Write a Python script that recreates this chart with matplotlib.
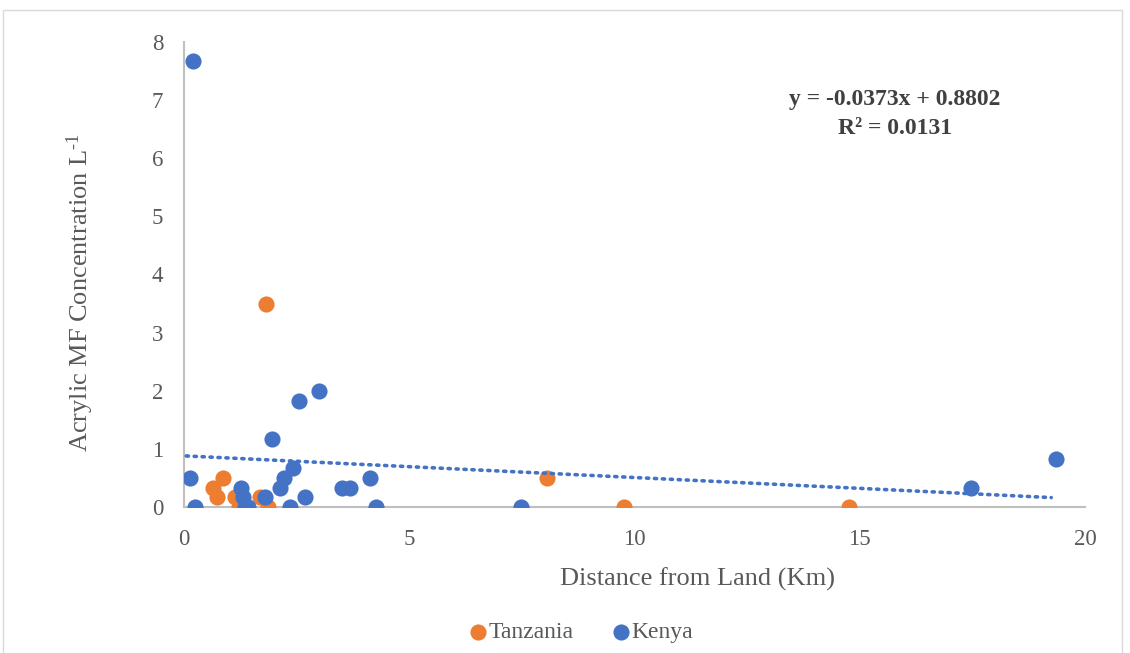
import matplotlib.pyplot as plt
import numpy as np
from matplotlib.patches import Rectangle

# Tanzania samples: distance from land (km) and acrylic MF concentration (per L)
tz_dist = [0.64, 0.73, 0.87, 1.13, 1.22, 1.69, 1.82, 1.86, 8.06, 9.77, 14.76]
tz_conc = [0.33, 0.17, 0.5, 0.17, 0.0, 0.17, 3.5, 0.0, 0.5, 0.0, 0.0]

# Kenya samples
ke_dist = [0.13, 0.2, 0.25, 1.27, 1.31, 1.35, 1.42, 1.8, 1.95, 2.13, 2.22,
           2.42, 2.35, 2.55, 2.69, 3.0, 3.5, 3.68, 4.13, 4.26, 7.48, 17.47, 19.35]
ke_conc = [0.5, 7.67, 0.0, 0.33, 0.17, 0.0, 0.0, 0.17, 1.17, 0.33, 0.5,
           0.67, 0.0, 1.83, 0.17, 2.0, 0.33, 0.33, 0.5, 0.0, 0.0, 0.33, 0.83]

# linear trendline as printed on the chart
slope = -0.0373
intercept = 0.8802
r2 = 0.0131

x_ticks = [0, 5, 10, 15, 20]
y_ticks = [0, 1, 2, 3, 4, 5, 6, 7, 8]

orange = '#ED7D31'
blue = '#4472C4'
grey_txt = '#595959'
serif = ['Liberation Serif', 'DejaVu Serif']

plt.rcParams['mathtext.fontset'] = 'custom'
plt.rcParams['mathtext.rm'] = 'Liberation Serif'
plt.rcParams['mathtext.it'] = 'Liberation Serif:italic'

fig = plt.figure(figsize=(11.3, 6.53), dpi=100)
fig.patches.append(Rectangle((3 / 1130, -0.1), 1119 / 1130, 1.1 - 10 / 653,
                             transform=fig.transFigure, fill=False,
                             edgecolor='#d9d9d9', linewidth=1))
ax = fig.add_axes([184 / 1130, 1 - 507 / 653, 901 / 1130, 465 / 653])

ax.scatter(tz_dist, tz_conc, s=135, color=orange, label='Tanzania', zorder=3, linewidths=0)
ax.scatter(ke_dist, ke_conc, s=135, color=blue, label='Kenya', zorder=4, linewidths=0)

all_x = np.array(tz_dist + ke_dist)
xs = np.array([all_x.min() - 0.08, all_x.max() - 0.1])
ax.plot(xs, slope * xs + intercept, color=blue, linewidth=2.6,
        linestyle=(0, (0.6, 1.6)), dash_capstyle='round', zorder=5)

ax.set_xlim(0, 20)
ax.set_ylim(0, 8)
ax.set_xticks(x_ticks)
ax.set_yticks(y_ticks)
for s in ['top', 'right']:
    ax.spines[s].set_visible(False)
for s in ['left', 'bottom']:
    ax.spines[s].set_color('#bfbfbf')
    ax.spines[s].set_linewidth(1.5)
ax.tick_params(axis='x', length=0, pad=16, labelsize=16.5, labelcolor=grey_txt)
ax.tick_params(axis='y', length=0, pad=15, labelsize=16.5, labelcolor=grey_txt)
for lab in ax.get_xticklabels() + ax.get_yticklabels():
    lab.set_fontfamily(serif)

ax.set_xlabel('Distance from Land (Km)', fontsize=19, color=grey_txt,
              family=serif, labelpad=16)
ax.xaxis.set_label_coords((697 - 184) / 901, -0.13)
ax.set_ylabel(r'Acrylic MF Concentration L$^{\text{-1}}$', fontsize=19, color=grey_txt,
              family=serif)
ax.yaxis.set_label_coords(-0.098, (507 - 292) / 465)

ax.text(895 / 1130, 1 - 114 / 653, f'y = {slope}x + {intercept}\nR² = {r2}',
        transform=fig.transFigure, ha='center', va='center', fontsize=17,
        fontweight='bold', color='#404040', family=serif, linespacing=1.5)

leg = fig.legend(loc='center', bbox_to_anchor=(574 / 1130, 1 - 632 / 653), ncol=2,
                 frameon=False, handletextpad=-0.55, columnspacing=1.0,
                 markerscale=1.0, prop={'family': serif, 'size': 17})
for t in leg.get_texts():
    t.set_color(grey_txt)

fig.savefig('out.png', dpi=100)
